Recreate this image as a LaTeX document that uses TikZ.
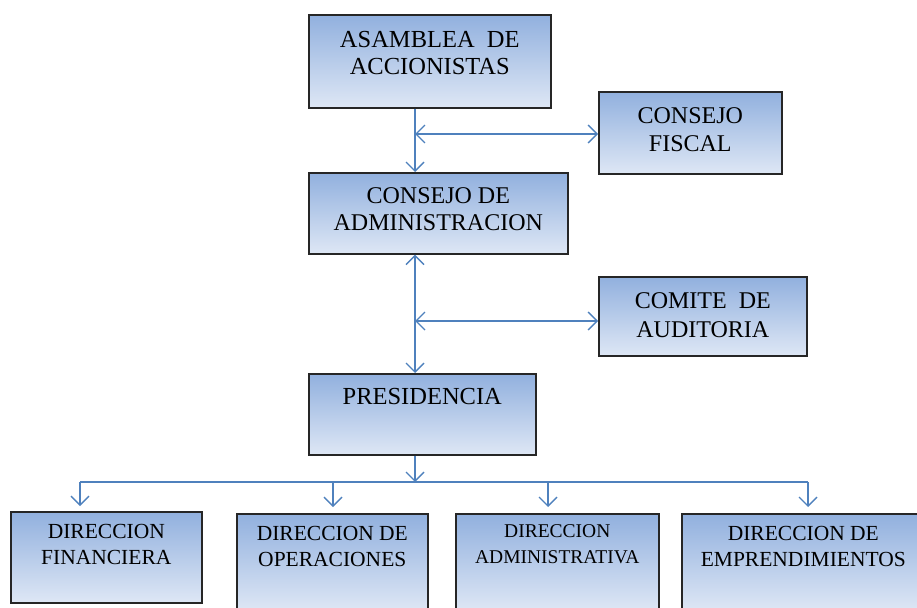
\documentclass[tikz,border=0pt]{standalone}
\usepackage{fontspec}
\setmainfont{Liberation Serif}
\usetikzlibrary{arrows.meta}
\definecolor{boxtop}{RGB}{145,176,222}
\definecolor{boxbot}{RGB}{222,231,245}
\definecolor{connblue}{RGB}{79,129,189}
\tikzset{
  orgbox/.style={draw=black!85, line width=1.6pt, top color=boxtop, bottom color=boxbot, anchor=north west, inner sep=0pt},
  link/.style={draw=connblue, line width=1.5pt},
  tipend/.style={-{Straight Barb[length=9pt,width=18pt,line width=1.4pt]}},
  tipboth/.style={{Straight Barb[length=9pt,width=18pt,line width=1.4pt]}-{Straight Barb[length=9pt,width=18pt,line width=1.4pt]}},
}
\begin{document}
\begin{tikzpicture}[x=1pt,y=-1pt]
\useasboundingbox (0,0) rectangle (917,607);
\node[orgbox] (asam) at (308,14) {\parbox[c][93pt][t]{242pt}{\centering\vspace*{16pt}\fontsize{24.5}{27}\selectfont ASAMBLEA~~DE\\ACCIONISTAS}};
\node[orgbox] (fisc) at (598,91) {\parbox[c][82pt][t]{183pt}{\centering\vspace*{16pt}\fontsize{24}{28}\selectfont CONSEJO\\FISCAL}};
\node[orgbox] (admin) at (308,172) {\parbox[c][81pt][t]{259pt}{\centering\vspace*{15pt}\fontsize{24}{27}\selectfont CONSEJO DE\\ADMINISTRACION}};
\node[orgbox] (comite) at (598,276) {\parbox[c][79pt][t]{208pt}{\centering\vspace*{16pt}\fontsize{24}{29}\selectfont COMITE~~DE\\AUDITORIA}};
\node[orgbox] (pres) at (308,373) {\parbox[c][81pt][t]{227pt}{\centering\vspace*{14pt}\fontsize{24.5}{27}\selectfont PRESIDENCIA}};
\node[orgbox] (fin) at (10,511) {\parbox[c][91pt][t]{191pt}{\centering\vspace*{12pt}\fontsize{21.5}{26}\selectfont DIRECCION\\FINANCIERA}};
\node[orgbox] (ope) at (236,513) {\parbox[c][97pt][t]{191pt}{\centering\vspace*{12pt}\fontsize{21.5}{26}\selectfont DIRECCION DE\\OPERACIONES}};
\node[orgbox] (adm) at (455,513) {\parbox[c][97pt][t]{203pt}{\centering\vspace*{11pt}\fontsize{19.5}{26}\selectfont DIRECCION\\ADMINISTRATIVA}};
\node[orgbox] (emp) at (681,513) {\parbox[c][97pt][t]{243pt}{\centering\vspace*{12pt}\fontsize{21.5}{26}\selectfont DIRECCION DE\\EMPRENDIMIENTOS}};
% coordinates
\coordinate (v1) at (415,107);
\coordinate (h1) at (415,134);
\coordinate (h2) at (415,321);
\coordinate (bus) at (415,482);
\coordinate (b1) at (80,482);
\coordinate (b2) at (333,482);
\coordinate (b3) at (548,482);
\coordinate (b4) at (808,482);
% connectors
\draw[link,tipend] (asam.south -| v1) -- (admin.north -| v1);
\draw[link,tipboth] (h1) -- (h1 -| fisc.west);
\draw[link,tipboth] (admin.south -| v1) -- (pres.north -| v1);
\draw[link,tipboth] (h2) -- (h2 -| comite.west);
\draw[link,tipend] (pres.south -| v1) -- (bus);
\draw[link] (b1) -- (b4);
\draw[link,tipend,shorten >=5pt] (b1) -- (fin.north -| b1);
\draw[link,tipend,shorten >=6pt] (b2) -- (ope.north -| b2);
\draw[link,tipend,shorten >=6pt] (b3) -- (adm.north -| b3);
\draw[link,tipend,shorten >=6pt] (b4) -- (emp.north -| b4);
\end{tikzpicture}
\end{document}
